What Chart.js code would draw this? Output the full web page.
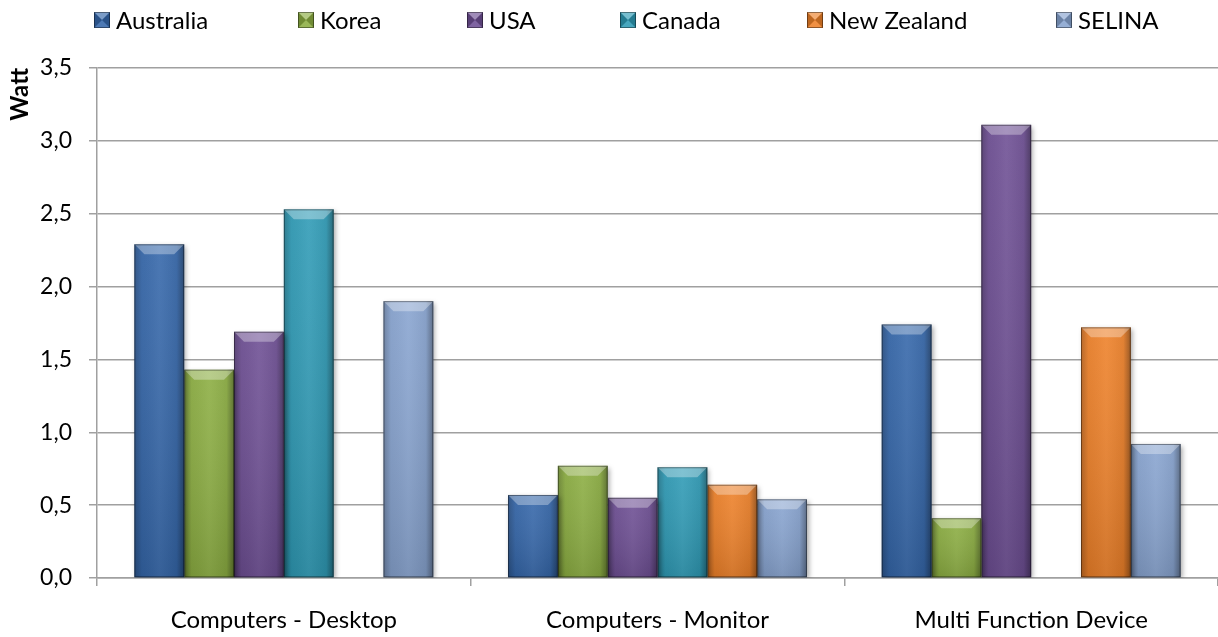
<!DOCTYPE html>
<html>
<head>
<meta charset="utf-8">
<script src="https://cdn.jsdelivr.net/npm/chart.js@4.4.1/dist/chart.umd.min.js"></script>
<style>
  html, body { margin: 0; padding: 0; background: #fff; }
  #chart { display: block; }
</style>
</head>
<body>
<canvas id="chart" width="1218" height="637"></canvas>
<script>
// data
const categories = ["Computers - Desktop", "Computers - Monitor", "Multi Function Device"];
const seriesNames = ["Australia", "Korea", "USA", "Canada", "New Zealand", "SELINA"];
const australia = [2.29, 0.57, 1.74];
const korea = [1.43, 0.77, 0.41];
const usa = [1.69, 0.55, 3.11];
const canada = [2.53, 0.76, null];
const newZealand = [null, 0.64, 1.72];
const selina = [1.90, 0.54, 0.92];
const yMin = 0, yMax = 3.5, yStep = 0.5;

const colors = ["#3567aa", "#8cae42", "#6e4f94", "#2f9bb6", "#ee8129", "#88a4d0"];
const legendX = [94, 298, 467, 620, 807, 1056];
const FONT = "Lato, 'Open Sans', sans-serif";

const ctx = document.getElementById("chart").getContext("2d");

// bevel look of the bars
const bevelPlugin = {
    id: "bevel",
    beforeDatasetDraw(chart) {
        const c = chart.ctx;
        c.save();
        c.shadowColor = "rgba(0,0,0,0.35)";
        c.shadowBlur = 5;
        c.shadowOffsetX = 2;
        c.shadowOffsetY = 2;
    },
    afterDatasetDraw(chart, args) {
        const c = chart.ctx;
        c.restore();
        c.save();
        const values = chart.data.datasets[args.index].data;
        args.meta.data.forEach((bar, j) => {
            if (values[j] == null) return;
            const { x, y, base, width } = bar.getProps(["x", "y", "base", "width"], true);
            const l = x - width / 2, r = x + width / 2, t = y, b = base;
            const bv = Math.min(10, (b - t) / 2);

            let g = c.createLinearGradient(l, 0, r, 0);
            g.addColorStop(0, "rgba(0,0,0,0.25)");
            g.addColorStop(0.15, "rgba(0,0,0,0.04)");
            g.addColorStop(0.5, "rgba(255,255,255,0.05)");
            g.addColorStop(0.85, "rgba(0,0,0,0.06)");
            g.addColorStop(1, "rgba(0,0,0,0.38)");
            c.fillStyle = g;
            c.fillRect(l, t, width, b - t);

            let gv = c.createLinearGradient(0, t, 0, b);
            gv.addColorStop(0, "rgba(255,255,255,0.06)");
            gv.addColorStop(1, "rgba(0,0,0,0.12)");
            c.fillStyle = gv;
            c.fillRect(l, t, width, b - t);

            c.beginPath();
            c.moveTo(l, t);
            c.lineTo(r, t);
            c.lineTo(r - bv, t + bv);
            c.lineTo(l + bv, t + bv);
            c.closePath();
            c.fillStyle = "rgba(255,255,255,0.32)";
            c.fill();

            c.strokeStyle = "rgba(0,0,0,0.4)";
            c.lineWidth = 1;
            c.strokeRect(l + 0.5, t + 0.5, width - 1, b - t - 1);
        });
        c.restore();
    }
};

// legend on top, placed like the original
const legendPlugin = {
    id: "topLegend",
    afterDraw(chart) {
        const c = chart.ctx;
        c.save();
        chart.data.datasets.forEach((ds, i) => {
            const x = legendX[i], y = 12, s = 16;
            c.fillStyle = colors[i];
            c.fillRect(x, y, s, s);
            const m = s / 2;
            c.beginPath();
            c.moveTo(x, y); c.lineTo(x + s, y); c.lineTo(x + m, y + m); c.closePath();
            c.fillStyle = "rgba(255,255,255,0.35)";
            c.fill();
            c.beginPath();
            c.moveTo(x, y + s); c.lineTo(x + s, y + s); c.lineTo(x + m, y + m); c.closePath();
            c.fillStyle = "rgba(255,255,255,0.12)";
            c.fill();
            c.beginPath();
            c.moveTo(x, y); c.lineTo(x, y + s); c.lineTo(x + m, y + m); c.closePath();
            c.moveTo(x + s, y); c.lineTo(x + s, y + s); c.lineTo(x + m, y + m); c.closePath();
            c.fillStyle = "rgba(0,0,0,0.2)";
            c.fill();
            c.strokeStyle = "rgba(0,0,0,0.4)";
            c.lineWidth = 1;
            c.strokeRect(x + 0.5, y + 0.5, s - 1, s - 1);

            c.fillStyle = "#000";
            c.font = "24px " + FONT;
            c.textBaseline = "middle";
            c.fillText(ds.label, x + s + 6, y + s / 2 + 1);
        });
        c.restore();
    }
};

const seriesValues = [australia, korea, usa, canada, newZealand, selina];

const chart = new Chart(ctx, {
    type: "bar",
    data: {
        labels: categories,
        datasets: seriesNames.map((name, i) => ({
            label: name,
            data: seriesValues[i],
            backgroundColor: colors[i],
            borderWidth: 0,
            categoryPercentage: 0.8,
            barPercentage: 1.0
        }))
    },
    plugins: [bevelPlugin, legendPlugin],
    options: {
        responsive: false,
        animation: false,
        devicePixelRatio: 1,
        layout: {
            padding: { top: 68, right: 0, bottom: 0, left: 0 }
        },
        plugins: {
            legend: { display: false },
            tooltip: { enabled: false }
        },
        scales: {
            x: {
                afterFit: s => { s.height = 59; },
                grid: {
                    offset: true,
                    drawOnChartArea: false,
                    tickLength: 8,
                    color: "#a0a0a0",
                    lineWidth: 1.5
                },
                border: { color: "#a0a0a0", width: 1.5 },
                ticks: {
                    color: "#000",
                    padding: 20,
                    font: { family: FONT, size: 24 }
                }
            },
            y: {
                min: yMin,
                max: yMax,
                afterFit: s => { s.width = 97; },
                grid: {
                    tickLength: 8,
                    color: "#a0a0a0",
                    lineWidth: 1.5
                },
                border: { color: "#a0a0a0", width: 1.5 },
                ticks: {
                    stepSize: yStep,
                    color: "#000",
                    padding: 17,
                    font: { family: FONT, size: 23 },
                    callback: v => v.toFixed(1).replace(".", ",")
                },
                title: {
                    display: true,
                    text: "Watt",
                    align: "end",
                    color: "#000",
                    font: { family: FONT, size: 24, weight: "bold" },
                    padding: { top: 6, bottom: 0 }
                }
            }
        }
    }
});
</script>
</body>
</html>
